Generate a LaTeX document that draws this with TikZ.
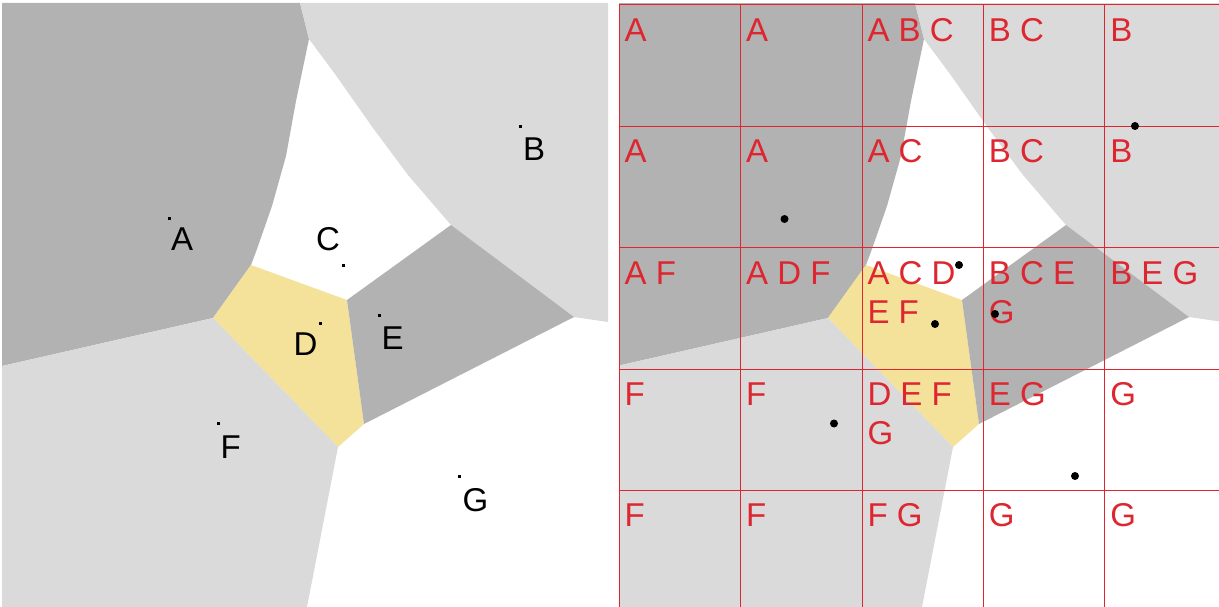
\documentclass[tikz,border=0pt]{standalone}
\usepackage{fontspec}
\setmainfont{Liberation Sans}
\definecolor{darkcell}{RGB}{178,178,178}
\definecolor{lightcell}{RGB}{218,218,218}
\definecolor{yellowcell}{RGB}{244,226,154}
\definecolor{gridred}{RGB}{222,38,48}
\newcommand{\vorcells}{%
  \fill[white] (2,3) rectangle (608,607);
  \fill[darkcell] (2,3) -- (300,3) -- (309,39) -- (296,101) -- (286,156) -- (272,206) -- (257,249) -- (251,265) -- (213,318) -- (2,366) -- cycle;
  \fill[lightcell] (300,3) -- (608,3) -- (608,322) -- (574,317) -- (451,225) -- (408,175) -- (373,128) -- (335,74) -- (309,39) -- cycle;
  \fill[yellowcell] (251,265) -- (347,300) -- (364,424) -- (338,447) -- (213,318) -- cycle;
  \fill[darkcell] (347,300) -- (451,225) -- (574,317) -- (364,424) -- cycle;
  \fill[lightcell] (2,366) -- (213,318) -- (338,447) -- (307,607) -- (2,607) -- cycle;
}
\begin{document}
\begin{tikzpicture}[x=1pt,y=-1pt,
  sitelabel/.style={anchor=base west,inner sep=0pt,font=\fontsize{33}{40}\selectfont,text=black},
  celllabel/.style={anchor=base west,inner sep=0pt,font=\fontsize{33}{40}\selectfont,text=gridred},
  gridline/.style={draw=gridred,line width=1.6pt},
  smalldot/.style={rectangle,fill=black,minimum size=3pt,inner sep=0pt},
  bigdot/.style={circle,fill=black,minimum size=8pt,inner sep=0pt}]
\useasboundingbox (0,0) rectangle (1219,607);
% left panel
\vorcells
\node[smalldot] (sA) at (169.5,218.6) {};
\node[smalldot] (sB) at (520,126.4) {};
\node[smalldot] (sC) at (343,265.7) {};
\node[smalldot] (sD) at (320,323.7) {};
\node[smalldot] (sE) at (379,315) {};
\node[smalldot] (sF) at (218,423) {};
\node[smalldot] (sG) at (459,476.6) {};
\node[sitelabel] (lA) at (171,251) {A};
\node[sitelabel] (lB) at (523,161) {B};
\node[sitelabel] (lC) at (316,251) {C};
\node[sitelabel] (lD) at (293.5,355) {D};
\node[sitelabel] (lE) at (381.5,349) {E};
\node[sitelabel] (lF) at (220.5,458) {F};
\node[sitelabel] (lG) at (462.5,511) {G};
% right panel
\begin{scope}
  \clip (619,4) rectangle (1219,607);
  \begin{scope}[shift={(615,0)}]
    \vorcells
  \end{scope}
\end{scope}
\foreach \gx in {619.5,740.5,862.5,983.5,1104.5} {
  \draw[gridline] (\gx,4.5) -- (\gx,607);
}
\foreach \gy in {4.5,126.5,247.5,369.5,490.5} {
  \draw[gridline] (619,\gy) -- (1219,\gy);
}
\foreach \i/\j/\t in {0/0/A, 1/0/A, 2/0/A B C, 3/0/B C, 4/0/B,
                      0/1/A, 1/1/A, 2/1/A C, 3/1/B C, 4/1/B,
                      0/2/A F, 1/2/A D F, 2/2/A C D, 3/2/B C E, 4/2/B E G,
                      0/3/F, 1/3/F, 2/3/D E F, 3/3/E G, 4/3/G,
                      0/4/F, 1/4/F, 2/4/F G, 3/4/G, 4/4/G} {
  \node[celllabel] (g\i\j) at ({624.5+121.4*\i},{41.3+121.4*\j}) {\t};
}
\node[celllabel] (g22b) at ({624.5+121.4*2},{80.3+121.4*2}) {E F};
\node[celllabel] (g32b) at ({624.5+121.4*3},{80.3+121.4*2}) {G};
\node[celllabel] (g23b) at ({624.5+121.4*2},{80.3+121.4*3}) {G};
\node[bigdot] (rA) at (784.5,219) {};
\node[bigdot] (rB) at (1135,126) {};
\node[bigdot] (rC) at (959,265) {};
\node[bigdot] (rD) at (935,324) {};
\node[bigdot] (rE) at (995,314) {};
\node[bigdot] (rF) at (834,423.5) {};
\node[bigdot] (rG) at (1075,476) {};
\end{tikzpicture}
\end{document}
